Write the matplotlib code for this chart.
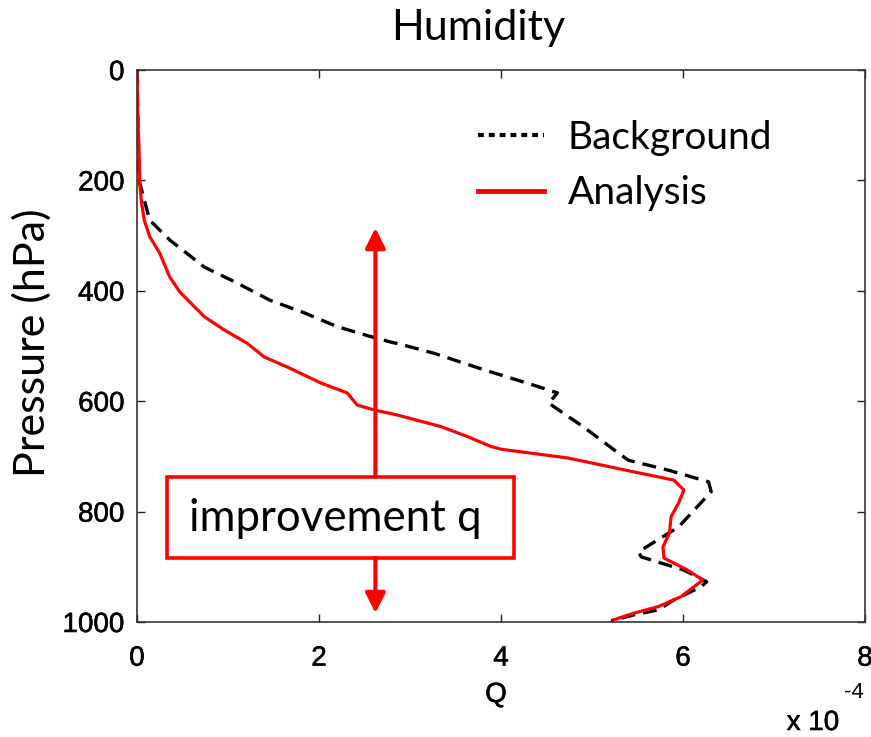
import matplotlib
matplotlib.use('Agg')
import matplotlib.pyplot as plt
import matplotlib.patheffects as pe
from matplotlib.lines import Line2D
from matplotlib.patches import Rectangle

# Background profile (Q in 1e-4, pressure in hPa)
bg_q = [0.0, 0.01, 0.02, 0.03, 0.11, 0.14, 0.36, 0.74, 1.10, 1.46, 1.84, 2.20, 2.57,
        2.79, 2.90, 3.26, 3.81, 4.36, 4.62, 4.58, 4.52, 4.91, 5.29, 5.40, 5.84,
        6.28, 6.31, 5.95, 5.51, 5.54, 6.01, 6.26, 6.20, 5.90, 5.73, 5.46, 5.21]
bg_p = [0, 100, 181, 205, 254, 272, 308, 357, 386, 417, 440, 465, 483,
        493, 497, 513, 543, 571, 585, 593, 603, 647, 694, 707, 725,
        746, 764, 828, 873, 882, 906, 927, 936, 960, 978, 987, 998]

# Analysis profile
an_q = [0.0, 0.01, 0.02, 0.03, 0.05, 0.08, 0.14, 0.25, 0.36, 0.47, 0.74, 0.96, 1.21,
        1.40, 1.65, 2.02, 2.31, 2.42, 2.61, 2.86, 3.34, 3.63, 3.89, 4.00, 4.74,
        5.46, 5.90, 6.01, 5.95, 5.87, 5.85, 5.78, 5.79, 6.05, 6.22, 6.12, 5.98,
        5.73, 5.46, 5.24]
an_p = [0, 100, 130, 205, 241, 272, 302, 332, 375, 402, 447, 471, 495,
        520, 538, 567, 585, 607, 616, 625, 646, 664, 682, 687, 703,
        728, 743, 761, 785, 809, 839, 864, 884, 906, 924, 936, 954,
        972, 984, 996]

x_ticks = [0, 2, 4, 6, 8]
y_ticks = [0, 200, 400, 600, 800, 1000]

W, H = 871, 737
fig = plt.figure(figsize=(W / 100, H / 100), dpi=100)
ax = fig.add_axes([137 / W, 1 - 622 / H, (865 - 137) / W, (622 - 70) / H])

ax.plot(bg_q, bg_p, color='black', lw=2.4, dashes=(4.2, 2.4))
ax.plot(an_q, an_p, color='red', lw=2.3)

ax.set_xlim(0, 8)
ax.set_ylim(1000, 0)
ax.set_xticks(x_ticks)
ax.set_yticks(y_ticks)
ax.tick_params(direction='in', length=6, top=True, right=True, width=1,
               labelsize=20, colors='#222222', labelcolor='black')
ax.tick_params(axis='x', pad=17)
ax.tick_params(axis='y', pad=9)
# matlab-ish labels look a bit heavier
heavy = [pe.withStroke(linewidth=0.4, foreground='black')]
for lab in ax.get_xticklabels() + ax.get_yticklabels():
    lab.set_family('Liberation Sans')
    lab.set_path_effects(heavy)
for s in ax.spines.values():
    s.set_linewidth(1.2)
    s.set_color('#333333')

# improvement annotation
red = '#ff0000'
ax.add_patch(Rectangle((0.33, 737), 3.81, 147, fill=False, edgecolor=red, lw=2.6, zorder=5))
ax.text(2.18, 812, 'improvement q', fontsize=31.5, family='Lato', ha='center', va='center', zorder=6)
arrow = dict(arrowstyle='-|>,head_length=0.6,head_width=0.3', color=red, lw=3,
             mutation_scale=20, shrinkA=0, shrinkB=0)
ax.annotate('', xy=(2.62, 286), xytext=(2.62, 737), arrowprops=arrow)
ax.annotate('', xy=(2.62, 984), xytext=(2.62, 884), arrowprops=arrow)

# legend with proxy handles
handles = [Line2D([], [], color='black', lw=3, dashes=(1.4, 1.2)),
           Line2D([], [], color=red, lw=3.5)]
leg = ax.legend(handles, ['Background', 'Analysis'], loc='upper left',
                bbox_to_anchor=((478 - 137) / (865 - 137), 1 - (120 - 70) / (622 - 70)),
                frameon=False, prop={'family': 'Lato', 'size': 28},
                handlelength=1.7, handletextpad=0.6, labelspacing=0.5,
                borderaxespad=0, borderpad=0)

fig.text(478 / W, 1 - 28 / H, 'Humidity', fontsize=31, family='Lato', ha='center', va='center')
fig.text(32 / W, 1 - 343 / H, 'Pressure (hPa)', fontsize=31, family='Lato', ha='center',
         va='center', rotation=90)
fig.text(496 / W, 1 - 695 / H, 'Q', fontsize=20, family='Liberation Sans', ha='center',
         va='center', path_effects=heavy)
fig.text(813 / W, 1 - 723 / H, 'x 10', fontsize=20, family='Liberation Sans', ha='center',
         va='center', path_effects=heavy)
fig.text(854 / W, 1 - 692 / H, '-4', fontsize=16, family='Liberation Sans', ha='center', va='center')

fig.savefig('out.png', dpi=100)
